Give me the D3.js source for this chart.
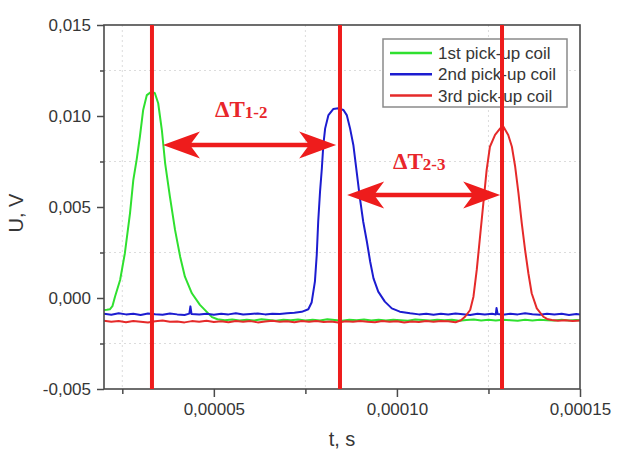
<!DOCTYPE html>
<html>
<head>
<meta charset="utf-8">
<script src="https://cdn.jsdelivr.net/npm/d3@7"></script>
<style>
  html, body { margin: 0; padding: 0; background: #fff; }
  svg { display: block; }
</style>
</head>
<body>
<svg id="chart" width="633" height="450"></svg>
<script>
// Pick-up coil signals: [time, µs ; voltage, mV]
const coil1 = [
  [20,-0.66],[20.8,-0.65],[21.6,-0.62],[22.3,-0.45],[23,0.07],[24.4,0.99],[25.7,2.46],[27.1,4.65],
  [28,6.48],[28.9,7.58],[29.8,8.86],[30.7,10.33],[31.7,11.15],[33,11.34],[33.9,11.25],[34.8,10.7],
  [35.8,9.23],[36.7,7.4],[38,5.57],[39.4,3.74],[40.8,2.27],[42.1,1.17],[44,0.26],[46.2,-0.38],
  [48,-0.75],[49.5,-1.05],[51,-1.17],[53,-1.22],[55,-1.18],[57,-1.23],[59,-1.19],[61,-1.24],
  [63,-1.17],[65,-1.21],[67,-1.25],[69,-1.19],[71,-1.22],[73,-1.18],[75,-1.24],[77,-1.20],
  [79,-1.23],[81,-1.17],[83,-1.21],[85,-1.25],[87,-1.19],[89,-1.22],[91,-1.18],[93,-1.24],
  [95,-1.20],[97,-1.23],[99,-1.19],[101,-1.22],[103,-1.25],[105,-1.18],[107,-1.21],[109,-1.24],
  [111,-1.19],[113,-1.22],[115,-1.20],[117,-1.25],[119,-1.21],[121,-1.18],[123,-1.23],[125,-1.20],
  [127,-1.24],[129,-1.19],[131,-1.22],[133,-1.25],[135,-1.20],[137,-1.23],[139,-1.19],[141,-1.22],
  [143,-1.24],[145,-1.20],[147,-1.23],[149,-1.21],[150,-1.22]
];
const coil2 = [
  [20,-0.86],[22,-0.92],[24,-0.84],[26,-0.90],[28,-0.86],[30,-0.93],[32,-0.85],[34,-0.89],
  [36,-0.92],[38,-0.85],[40,-0.90],[42,-0.93],[43.3,-0.86],[43.6,-0.46],[43.9,-0.88],[46,-0.91],
  [48,-0.86],[50,-0.92],[52,-0.87],[54,-0.90],[56,-0.84],[58,-0.91],[60,-0.88],[62,-0.85],
  [64,-0.90],[66,-0.86],[68,-0.88],[70,-0.84],[72,-0.81],[74,-0.76],[75.8,-0.62],[76.7,-0.25],
  [77.6,0.9],[78.1,2.36],[78.5,4.19],[79,5.84],[79.5,7.13],[79.9,8.41],[80.4,9.32],[81.3,10.05],
  [82.6,10.38],[84,10.42],[85.4,10.33],[86.3,10.05],[87.2,9.32],[88.1,8.41],[89,6.94],[89.9,5.48],
  [90.8,4.19],[91.8,3.09],[92.7,1.99],[93.6,1.08],[94.9,0.35],[96.7,-0.2],[98.6,-0.57],[100.8,-0.75],
  [103.6,-0.84],[106,-0.90],[108,-0.86],[110,-0.92],[112,-0.87],[114,-0.91],[116,-0.85],[118,-0.89],
  [120,-0.93],[122,-0.86],[124,-0.90],[126,-0.87],[127,-0.91],[127.2,-0.55],[127.5,-0.88],[129,-0.92],
  [131,-0.86],[133,-0.90],[135,-0.84],[137,-0.89],[139,-0.92],[141,-0.86],[143,-0.90],[145,-0.87],
  [147,-0.93],[149,-0.88],[150,-0.90]
];
const coil3 = [
  [20,-1.25],[22,-1.31],[24,-1.27],[26,-1.33],[28,-1.26],[30,-1.30],[32,-1.35],[34,-1.28],
  [36,-1.24],[38,-1.31],[40,-1.29],[42,-1.34],[44,-1.27],[46,-1.30],[48,-1.25],[50,-1.32],
  [52,-1.28],[54,-1.33],[56,-1.26],[58,-1.30],[60,-1.27],[62,-1.34],[64,-1.29],[66,-1.25],
  [68,-1.31],[70,-1.28],[72,-1.33],[74,-1.27],[76,-1.30],[78,-1.26],[80,-1.32],[82,-1.29],
  [84,-1.35],[86,-1.28],[88,-1.31],[90,-1.26],[92,-1.30],[94,-1.33],[96,-1.27],[98,-1.31],
  [100,-1.28],[102,-1.34],[104,-1.29],[106,-1.32],[108,-1.27],[110,-1.31],[112,-1.26],[114,-1.28],
  [116,-1.33],[117.5,-1.22],[118.6,-1.03],[120,-0.66],[120.9,0.07],[121.8,1.54],[122.7,3.37],[123.6,5.2],
  [124.5,7.03],[125.4,8.31],[126.8,8.96],[128.2,9.32],[129.1,9.41],[130.4,8.96],[131.4,8.31],[132.3,7.21],
  [133.2,5.75],[134.1,4.10],[135,2.64],[135.9,1.36],[136.8,0.26],[138.2,-0.57],[140,-1.03],[141,-1.15],
  [142.3,-1.21],[144,-1.25],[146,-1.22],[148,-1.27],[150,-1.24]
];

const seriesNames = ["1st pick-up coil", "2nd pick-up coil", "3rd pick-up coil"];
// Arrival time of each pulse, µs
const markerTimes = [33.1, 84.45, 128.7];
// Delay arrows between pulses: time span (µs) and level (mV)
const delaySpans = [
  { from: 36.1, to: 83.4, level: 8.4, name: "1-2" },
  { from: 86.4, to: 128.2, level: 5.66, name: "2-3" }
];

const xMajorTicks = [0.00005, 0.00010, 0.00015];
const xMinorTicks = [0.000025, 0.000075, 0.000125];
const yMajorTicks = [-0.005, 0.000, 0.005, 0.010, 0.015];
const yMinorTicks = [-0.0025, 0.0025, 0.0075, 0.0125];

const colors = ["#2fe02f", "#1c1cd0", "#e52a2a"];
const markerColor = "#ee1c1c";

const svg = d3.select("#chart");
const m = { left: 104, right: 580, top: 25, bottom: 389 };

const x = d3.scaleLinear().domain([0.00002, 0.00015]).range([m.left, m.right]);
const y = d3.scaleLinear().domain([-0.005, 0.015]).range([m.bottom, m.top]);

const loc = d3.formatLocale({ decimal: ",", thousands: " ", grouping: [3], currency: ["", ""], minus: "-" });
const fx = loc.format(".5f");
const fy = loc.format(".3f");

const font = "'Liberation Sans', Arial, Helvetica, sans-serif";
const textCol = "#363636";

// grid at minor positions
const grid = svg.append("g").attr("stroke", "#dcdcdc").attr("stroke-width", 1).attr("stroke-dasharray", "2,3");
grid.selectAll("line.gy").data(yMinorTicks).join("line")
  .attr("x1", m.left).attr("x2", m.right)
  .attr("y1", d => y(d)).attr("y2", d => y(d));
grid.selectAll("line.gx").data(xMinorTicks).join("line")
  .attr("y1", m.top).attr("y2", m.bottom)
  .attr("x1", d => x(d)).attr("x2", d => x(d));

// signal traces
svg.append("clipPath").attr("id", "plotClip").append("rect")
  .attr("x", m.left).attr("y", m.top).attr("width", m.right - m.left).attr("height", m.bottom - m.top);

const line = d3.line().x(d => x(d[0] * 1e-6)).y(d => y(d[1] * 1e-3));
const traces = svg.append("g").attr("clip-path", "url(#plotClip)");
[coil1, coil2, coil3].forEach((s, i) => {
  traces.append("path").datum(s)
    .attr("d", line)
    .attr("fill", "none")
    .attr("stroke", colors[i])
    .attr("stroke-width", 2)
    .attr("stroke-linejoin", "round");
});

// axes
const axisCol = "#4a4a4a";
function styleAxis(g) {
  g.select(".domain").remove();
  g.selectAll(".tick line").attr("stroke", axisCol).attr("stroke-width", 1.5);
  g.selectAll(".tick text").attr("fill", textCol).style("font-family", font).style("font-size", "17px");
}
svg.append("g").attr("transform", `translate(${m.left},0)`)
  .call(d3.axisLeft(y).tickValues(yMajorTicks).tickFormat(fy).tickSize(7).tickPadding(6))
  .call(styleAxis);
svg.append("g").attr("transform", `translate(${m.left},0)`)
  .call(d3.axisLeft(y).tickValues(yMinorTicks).tickFormat("").tickSize(4))
  .call(styleAxis);
svg.append("g").attr("transform", `translate(0,${m.bottom})`)
  .call(d3.axisBottom(x).tickValues(xMajorTicks).tickFormat(fx).tickSize(8).tickPadding(6))
  .call(styleAxis);
svg.append("g").attr("transform", `translate(0,${m.bottom})`)
  .call(d3.axisBottom(x).tickValues(xMinorTicks).tickFormat("").tickSize(5))
  .call(styleAxis);

svg.append("rect")
  .attr("x", m.left).attr("y", m.top)
  .attr("width", m.right - m.left).attr("height", m.bottom - m.top)
  .attr("fill", "none").attr("stroke", axisCol).attr("stroke-width", 1.6);

// axis titles
svg.append("text")
  .attr("x", (m.left + m.right) / 2).attr("y", 446)
  .attr("text-anchor", "middle")
  .attr("fill", textCol).style("font-family", font).style("font-size", "20px")
  .text("t, s");
svg.append("text")
  .attr("transform", `translate(23,${(m.top + m.bottom) / 2 + 6}) rotate(-90)`)
  .attr("text-anchor", "middle")
  .attr("fill", textCol).style("font-family", font).style("font-size", "20px")
  .text("U, V");

// legend
const lg = svg.append("g").attr("transform", "translate(383,39)");
lg.append("rect").attr("width", 184).attr("height", 68)
  .attr("fill", "#fff").attr("stroke", "#8a8a8a").attr("stroke-width", 1.5);
seriesNames.forEach((name, i) => {
  const cy = 14 + i * 21.3;
  lg.append("line").attr("x1", 7).attr("x2", 49).attr("y1", cy).attr("y2", cy)
    .attr("stroke", colors[i]).attr("stroke-width", 2.5);
  lg.append("text").attr("x", 55).attr("y", cy).attr("dy", "0.36em")
    .attr("fill", textCol).style("font-family", font).style("font-size", "17px")
    .text(name);
});

// pulse arrival markers
svg.append("g").selectAll("line").data(markerTimes).join("line")
  .attr("x1", d => x(d * 1e-6)).attr("x2", d => x(d * 1e-6))
  .attr("y1", m.top).attr("y2", m.bottom)
  .attr("stroke", markerColor).attr("stroke-width", 4);

// delay arrows
const headLen = 37, headHalf = 13.5, notch = 27;
const arrows = svg.append("g").attr("fill", markerColor);
delaySpans.forEach(s => {
  const x0 = x(s.from * 1e-6), x1 = x(s.to * 1e-6), yy = y(s.level * 1e-3);
  arrows.append("line")
    .attr("x1", x0 + notch - 2).attr("x2", x1 - notch + 2)
    .attr("y1", yy).attr("y2", yy)
    .attr("stroke", markerColor).attr("stroke-width", 4.5);
  arrows.append("path")
    .attr("d", `M${x0},${yy} L${x0 + headLen},${yy - headHalf} L${x0 + notch},${yy} L${x0 + headLen},${yy + headHalf} Z`);
  arrows.append("path")
    .attr("d", `M${x1},${yy} L${x1 - headLen},${yy - headHalf} L${x1 - notch},${yy} L${x1 - headLen},${yy + headHalf} Z`);
});

// delay labels
const serif = "'Liberation Serif', 'Times New Roman', Times, serif";
const labelAnchors = [[215, 117], [393, 169]];
delaySpans.forEach((s, i) => {
  const t = svg.append("text")
    .attr("x", labelAnchors[i][0]).attr("y", labelAnchors[i][1])
    .attr("fill", "#e8262a").style("font-family", serif).style("font-weight", "bold");
  t.append("tspan").style("font-size", "23px").text("ΔT");
  t.append("tspan").style("font-size", "17px").attr("dy", 1).text(s.name);
});
</script>
</body>
</html>
